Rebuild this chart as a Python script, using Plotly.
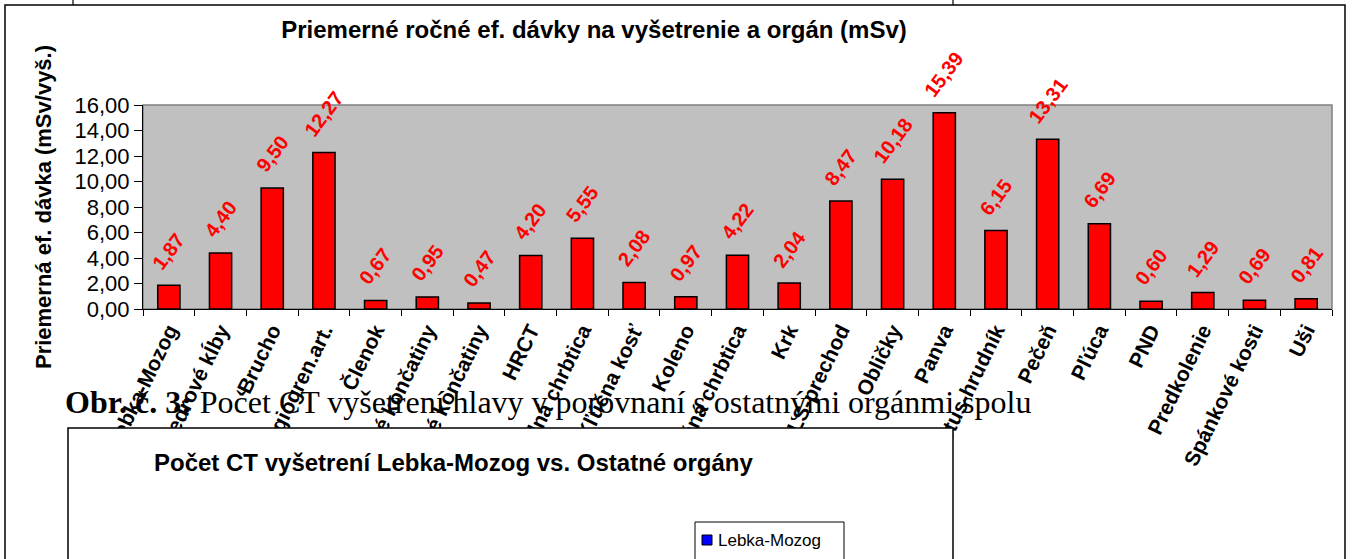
import plotly.graph_objects as go

categories = ["Lebka-Mozog", "Bedrové kĺby", "Brucho", "CT Angiogren.art.", "Členok",
              "Dolné končatiny", "Horné končatiny", "HRCT", "Hrudná chrbtica", "Kľúčna kosť",
              "Koleno", "Krčná chrbtica", "Krk", "LS-prechod", "Obličky", "Panva",
              "Pectus-hrudník", "Pečeň", "Pľúca", "PND", "Predkolenie", "Spánkové kosti", "Uši"]
values = [1.87, 4.40, 9.50, 12.27, 0.67, 0.95, 0.47, 4.20, 5.55, 2.08, 0.97, 4.22, 2.04,
          8.47, 10.18, 15.39, 6.15, 13.31, 6.69, 0.60, 1.29, 0.69, 0.81]
y_ticks = [0, 2, 4, 6, 8, 10, 12, 14, 16]

W, H = 1353, 559
L, R, T, B = 143, 1332, 105, 309


def px(x):
    return (x - L) / (R - L)


def py(y):
    return (B - y) / (B - T)


FONT = "Liberation Sans, Arial, sans-serif"
SERIF = "Liberation Serif, Times New Roman, serif"

fig = go.Figure()
fig.add_trace(go.Bar(
    x=categories, y=values,
    marker=dict(color="#FF0000", line=dict(color="black", width=1.5)),
    width=0.43, showlegend=False, hoverinfo="x+y",
))

# data labels, placed from the data arrays
label_annotations = [
    dict(x=c, y=v, xref="x", yref="y", text=f"<b>{v:.2f}</b>".replace(".", ","),
         textangle=-53, xanchor="center", yanchor="bottom", yshift=9, showarrow=False,
         font=dict(family=FONT, size=20, color="#FF0000"))
    for c, v in zip(categories, values)
]

shapes = [
    dict(type="rect", xref="paper", yref="paper", x0=0, x1=1, y0=0, y1=1,
         line=dict(color="#808080", width=1.5), layer="below"),
    dict(type="rect", xref="paper", yref="paper", x0=px(5), x1=px(1345), y0=py(5), y1=py(620),
         line=dict(color="black", width=1.5), layer="above"),
    dict(type="line", xref="paper", yref="paper", x0=px(73), x1=px(73), y0=py(0), y1=py(5),
         line=dict(color="black", width=1.2), layer="above"),
    dict(type="line", xref="paper", yref="paper", x0=px(953), x1=px(953), y0=py(0), y1=py(5),
         line=dict(color="black", width=1.2), layer="above"),
    dict(type="rect", xref="paper", yref="paper", x0=px(68), x1=px(953), y0=py(428), y1=py(620),
         line=dict(color="black", width=1.5), fillcolor="white", layer="above"),
    dict(type="rect", xref="paper", yref="paper", x0=px(695), x1=px(844), y0=py(522), y1=py(620),
         line=dict(color="black", width=1), fillcolor="white", layer="above"),
    dict(type="rect", xref="paper", yref="paper", x0=px(702), x1=px(712), y0=py(535), y1=py(545),
         line=dict(color="black", width=1), fillcolor="#0000FF", layer="above"),
]

annotations = label_annotations + [
    dict(text="<b>Obr. č. 3:</b> Počet CT vyšetrení hlavy v porovnaní s ostatnými orgánmi spolu",
         xref="paper", yref="paper", x=px(63), y=py(402), xanchor="left", yanchor="middle",
         showarrow=False, font=dict(family=SERIF, size=32, color="black")),
    dict(text="<b>Počet CT vyšetrení Lebka-Mozog vs. Ostatné orgány</b>",
         xref="paper", yref="paper", x=px(453), y=py(462), xanchor="center", yanchor="middle",
         showarrow=False, font=dict(family=FONT, size=24, color="black")),
    dict(text="Lebka-Mozog",
         xref="paper", yref="paper", x=px(716), y=py(540), xanchor="left", yanchor="middle",
         showarrow=False, font=dict(family=FONT, size=17, color="black")),
]

fig.update_layout(
    width=W, height=H,
    margin=dict(l=L, r=W - R, t=T, b=H - B, pad=0),
    paper_bgcolor="white", plot_bgcolor="#C0C0C0",
    separators=",.",
    title=dict(text="<b>Priemerné ročné ef. dávky na vyšetrenie a orgán (mSv)</b>",
               x=px(594), xanchor="center", y=1 - 30 / H, yanchor="middle",
               xref="paper", font=dict(family=FONT, size=24, color="black")),
    xaxis=dict(type="category", showline=True, linecolor="black", linewidth=1,
               ticks="outside", ticklen=6, tickcolor="black", tickson="boundaries",
               tickangle=-64, tickfont=dict(family=FONT, size=21, color="black", weight="bold"),
               showgrid=False, automargin=False),
    yaxis=dict(range=[0, 16], tickvals=y_ticks, tickformat=".2f", showline=True,
               linecolor="black", linewidth=1, ticks="outside", ticklen=8, tickcolor="black",
               tickfont=dict(family=FONT, size=22, color="black"), showgrid=False,
               zeroline=False, automargin=False,
               title=dict(text="<b>Priemerná ef. dávka (mSv/vyš.)</b>", standoff=16,
                          font=dict(family=FONT, size=22, color="black"))),
    shapes=shapes, annotations=annotations, showlegend=False,
)

fig.write_html("out.html", config={"displayModeBar": False},
               post_script="document.body.style.margin='0';")
